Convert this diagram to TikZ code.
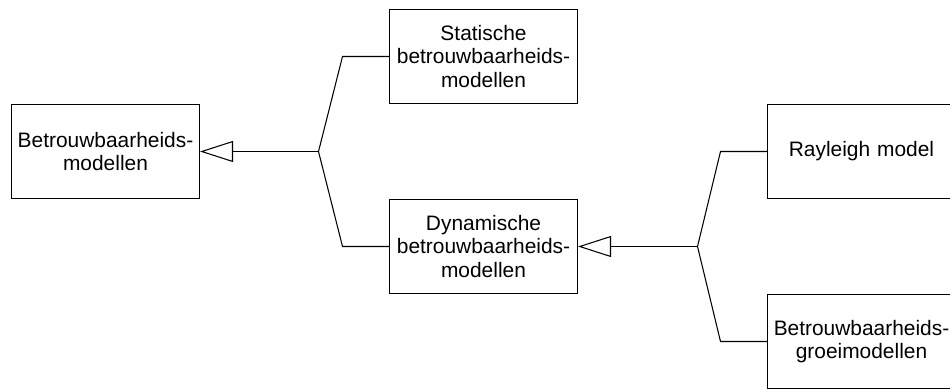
\documentclass[tikz,border=0pt]{standalone}
\usepackage{fontspec}
\setmainfont{Liberation Sans}
\usetikzlibrary{arrows.meta}

\tikzset{
  model/.style={draw, line width=0.6pt, minimum width=3.76cm, minimum height=1.88cm,
    text width=3.7cm, align=center, inner sep=0pt, font=\fontsize{11.9}{13.4}\selectfont},
  branch/.style={line width=0.6pt},
  isa/.style={branch, -{Triangle[open, length=0.66cm, width=0.42cm]}}
}

\begin{document}
\begin{tikzpicture}
\clip (0,0) rectangle (19,7.78);

% the boxes
\node[model] (betr) at (2.11,4.75) {Betrouwbaarheids-\\modellen};
\node[model] (stat) at (9.67,6.65) {Statische\\betrouwbaarheids-\\modellen};
\node[model] (dyn) at (9.67,2.85) {Dynamische\\betrouwbaarheids-\\modellen};
\node[model] (ray) at (17.23,4.75) {Rayleigh model};
\node[model] (groei) at (17.23,0.95) {Betrouwbaarheids-\\groeimodellen};

% first split
\coordinate (J1) at (6.37,4.75);
\draw[isa] (J1) -- (betr.east);
\draw[branch] (J1) -- (6.85,6.65) -- (stat.west);
\draw[branch] (J1) -- (6.85,2.85) -- (dyn.west);

% second split
\coordinate (J2) at (13.95,2.85);
\draw[isa] (J2) -- (dyn.east);
\draw[branch] (J2) -- (14.41,4.75) -- (ray.west);
\draw[branch] (J2) -- (14.41,0.95) -- (groei.west);
\end{tikzpicture}
\end{document}
